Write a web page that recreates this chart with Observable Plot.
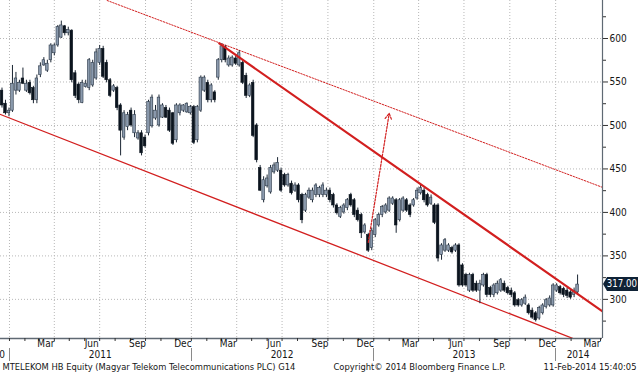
<!DOCTYPE html>
<html><head><meta charset="utf-8">
<script src="https://cdn.jsdelivr.net/npm/d3@7"></script>
<script src="https://cdn.jsdelivr.net/npm/@observablehq/plot@0.6"></script>
<style>
html,body{margin:0;padding:0;background:#fff;overflow:hidden;}
#chart svg{display:block;}
</style></head><body><div id="chart"></div>
<script>
// Weekly candles (week-ending Fridays), MTELEKOM HB Equity
const firstWeek = "2010-12-17";
const lastWeek = "2014-02-14";
const open = [
540,525,514,517,540,540,554,540,549,543,
529,558,569,563,575,583,592,601,614,606,
609,560,547,526,544,543,546,554,572,588,
572,552,540,543,523,486,498,517,491,485,
491,486,491,
499,508,500,509,520,517,514,483,514,517,
515,514,521,483,517,540,549,529,538,555,
575,590,569,569,577,569,572,557,534,
549,500,451,414,430,423,446,448,448,443,
431,433,425,
431,420,402,417,414,420,420,420,420,425,
420,408,395,400,405,420,414,402,397,
377,374,359,374,385,397,400,402,410,414,
391,402,414,408,408,416,422,425,420,410,
408,408,351,356,356,359,356,362,339,328,
310,328,318,310,316,328,313,305,307,
310,318,313,310,307,299,293,295,293,287,
284,278,284,291,293,293,310,
314,312,310,308,305,308];
const high = [
543,529,520,569,561,552,566,552,552,545,
558,572,578,575,594,594,615,620,615,613,
610,563,549,552,552,577,575,588,592,591,
575,554,547,545,525,517,515,520,517,494,
494,489,529,
535,523,535,525,523,520,515,525,525,524,
526,523,523,523,557,557,552,548,540,577,
594,592,580,580,580,586,575,560,548,
552,502,454,441,443,454,457,463,451,445,
445,436,434,
433,422,422,428,428,433,430,434,428,428,
422,410,407,410,416,422,416,405,399,
387,376,382,393,399,408,410,418,418,416,
416,418,416,410,416,428,431,428,422,420,
410,410,364,370,364,361,364,364,341,330,
330,330,321,322,330,330,315,318,321,
324,321,315,313,309,301,301,305,295,290,
286,292,295,301,304,318,318,
316,314,313,310,313,328];
const low = [
520,512,510,515,535,538,547,538,535,525,
525,555,568,561,572,580,590,600,603,603,
549,531,525,525,543,540,544,552,569,554,
549,532,538,517,465,483,494,498,486,483,
465,474,488,
497,506,498,508,508,492,477,480,511,515,
514,512,478,480,515,538,526,526,526,552,
572,572,567,567,569,567,547,531,532,
486,457,424,411,428,421,444,446,423,429,
429,420,423,
411,387,400,415,411,417,417,417,417,411,
405,397,393,398,402,406,394,389,370,
375,354,356,371,383,394,398,400,408,376,
389,400,400,394,406,414,420,411,406,408,
386,343,345,354,354,352,354,314,314,314,
308,308,308,295,314,302,302,302,305,
308,308,305,302,291,291,291,293,282,277,
274,276,282,289,291,291,308,
305,302,301,300,302,306];
const close = [
523,514,517,548,554,549,548,548,537,529,
554,568,575,571,592,592,613,615,606,610,
552,534,529,549,548,575,572,584,588,556,
552,534,545,520,494,514,512,500,512,491,
468,476,527,
532,517,532,523,509,494,479,523,523,523,
525,521,480,521,555,555,529,546,529,575,
591,575,577,578,571,583,549,534,546,
488,460,425,437,439,451,454,457,425,431,
443,422,431,
414,391,420,425,425,431,428,431,425,414,
408,399,405,408,414,408,397,391,376,
385,356,379,391,397,406,408,416,416,385,
414,416,402,397,414,425,428,414,408,417,
388,347,362,368,362,354,362,316,316,316,
328,310,310,318,328,305,305,316,318,
322,310,307,305,293,293,299,302,284,279,
276,290,293,299,301,316,316,
307,305,304,302,310,317];

// Trend lines and arrow (date, value)
const supportDates = ["2010-12-14", "2014-02-04"];
const supportValues = [512.6, 255.2];
const resistDates = ["2012-02-26", "2014-04-05"];
const resistValues = [594.3, 286.2];
const channelDates = ["2011-07-16", "2014-04-05"];
const channelValues = [643.7, 428.8];
const arrowFrom = ["2012-12-21", 365.6];
const arrowTo = ["2013-02-01", 513.8];

// Axes
const xDomain = ["2010-12-14", "2014-04-05"];
const yDomain = [255, 643.7];
const yTicks = [300, 350, 400, 450, 500, 550, 600];
const yMinorTicks = [275, 325, 375, 425, 475, 525, 575, 625];
const gridDates = ["2011-01-01","2011-04-01","2011-07-01","2011-10-01","2012-01-01","2012-04-01","2012-07-01","2012-10-01","2013-01-01","2013-04-01","2013-07-01","2013-10-01","2014-01-01"];
const monthLabelDates = ["2011-03-15","2011-06-15","2011-09-15","2011-12-15","2012-03-15","2012-06-15","2012-09-15","2012-12-15","2013-03-15","2013-06-15","2013-09-15","2013-12-15","2014-03-15"];
const monthLabelText = ["Mar","Jun","Sep","Dec","Mar","Jun","Sep","Dec","Mar","Jun","Sep","Dec","Mar"];
const yearLabelDates = ["2010-11-30","2011-07-02","2012-07-01","2013-07-01","2014-02-15"];
const yearLabelText = ["2010","2011","2012","2013","2014"];
const yearStarts = ["2011-01-01","2012-01-01","2013-01-01","2014-01-01"];
const footerLeft = "MTELEKOM HB Equity (Magyar Telekom Telecommunications PLC) G14";
const footerMid = "Copyright\u00A9 2014 Bloomberg Finance L.P.";
const footerRight = "11-Feb-2014 15:40:05";

const P = d => new Date(d);
const weeks = d3.utcFriday.range(P(firstWeek), d3.utcDay.offset(P(lastWeek), 1));
const candles = weeks.map((date, i) => ({date, open: open[i], high: high[i], low: low[i], close: close[i]}));
const monthTicks = d3.utcMonth.range(P(xDomain[0]), P(xDomain[1]));
const red = "#d21f1f";
const FONT = "'Liberation Sans Narrow','DejaVu Sans Condensed','Liberation Sans',sans-serif";

const yearSeparators = (index, scales, values, dim) => {
  const g = d3.create("svg:g");
  const yb = dim.height - dim.marginBottom;
  for (const d of yearStarts) {
    const x = Math.round(scales.x(P(d))) + 0.5;
    g.append("line").attr("x1", x).attr("x2", x).attr("y1", yb + 10).attr("y2", yb + 23)
      .attr("stroke", "#8a8a8a").attr("stroke-width", 1);
  }
  return g.node();
};

const priceLabel = (index, scales, values, dim) => {
  const last = close[close.length - 1];
  const y = Math.round(scales.y(last));
  const x0 = dim.width - dim.marginRight + 1;
  const g = d3.create("svg:g");
  g.append("path")
    .attr("d", `M${x0},${y} L${x0 + 4},${y - 7} H${dim.width} V${y + 7} H${x0 + 4} Z`)
    .attr("fill", "#0f2236");
  g.append("text").attr("x", dim.width - 1).attr("y", y).attr("dy", "0.36em")
    .attr("text-anchor", "end").attr("fill", "#fff").attr("font-size", 9.6)
    .text(last.toFixed(2));
  return g.node();
};

const chart = Plot.plot({
  width: 638, height: 376,
  marginLeft: 0, marginRight: 36, marginTop: 0, marginBottom: 38,
  x: {type: "utc", domain: xDomain.map(P), axis: null},
  y: {domain: yDomain, axis: null},
  style: {fontFamily: FONT, fontSize: "10px", color: "#151515", background: "#fff"},
  marks: [
    Plot.ruleY(yTicks, {stroke: "#b8b8b8", strokeOpacity: 1, strokeDasharray: "1,2"}),
    Plot.ruleX(gridDates.map(P), {stroke: "#b8b8b8", strokeOpacity: 1, strokeDasharray: "1,2"}),
    Plot.line(supportDates.map((d, i) => ({d: P(d), v: supportValues[i]})), {x: "d", y: "v", stroke: red, strokeWidth: 1.3, clip: true}),
    Plot.line(channelDates.map((d, i) => ({d: P(d), v: channelValues[i]})), {x: "d", y: "v", stroke: red, strokeWidth: 1, strokeDasharray: "1.5,1.5", clip: true}),
    Plot.ruleX(candles, {x: "date", y1: "low", y2: "high", stroke: "#1b2633", strokeWidth: 1}),
    Plot.rect(candles, {
      x1: d => d3.utcHour.offset(d.date, -62), x2: d => d3.utcHour.offset(d.date, 62),
      y1: "open", y2: "close",
      fill: d => d.close >= d.open ? "#8b9aad" : "#0b141e",
      stroke: d => d.close >= d.open ? "#2a3848" : "#0b141e", strokeWidth: 0.6
    }),
    Plot.line(resistDates.map((d, i) => ({d: P(d), v: resistValues[i]})), {x: "d", y: "v", stroke: red, strokeWidth: 2.2, clip: true}),
    Plot.arrow([{x1: P(arrowFrom[0]), y1: arrowFrom[1], x2: P(arrowTo[0]), y2: arrowTo[1]}],
      {x1: "x1", y1: "y1", x2: "x2", y2: "y2", stroke: red, strokeWidth: 1.2, strokeDasharray: "2,1.5", headLength: 8, bend: 0}),
    Plot.ruleY([yDomain[0]], {stroke: "#5f6973", strokeWidth: 1.5}),
    Plot.ruleX([P(xDomain[1])], {stroke: "#5f6973", strokeWidth: 1.2}),
    Plot.axisY(yTicks, {anchor: "right", tickSize: 5, tickPadding: 2, label: null, stroke: "#333"}),
    Plot.axisY(yMinorTicks.filter(v => v >= yDomain[0] && v <= yDomain[1]), {anchor: "right", tickSize: 3, tickFormat: () => "", label: null, stroke: "#333"}),
    Plot.axisX(monthTicks, {anchor: "bottom", tickSize: 3, tickFormat: () => "", label: null, stroke: "#333"}),
    Plot.text(monthLabelDates, {x: d => P(d), text: (d, i) => monthLabelText[i], frameAnchor: "bottom", dy: 8}),
    Plot.text(yearLabelDates, {x: d => P(d), text: (d, i) => yearLabelText[i], frameAnchor: "bottom", dy: 19}),
    yearSeparators,
    Plot.text([footerLeft], {frameAnchor: "bottom-left", dx: 2, dy: 31, textAnchor: "start", fontSize: 9.3}),
    Plot.text([footerMid], {frameAnchor: "bottom-left", dx: 333, dy: 31, textAnchor: "start", fontSize: 9.3}),
    Plot.text([footerRight], {frameAnchor: "bottom-right", dx: 34, dy: 31, textAnchor: "end", fontSize: 9.3}),
    priceLabel
  ]
});
document.getElementById("chart").appendChild(chart);
</script>
</body></html>
